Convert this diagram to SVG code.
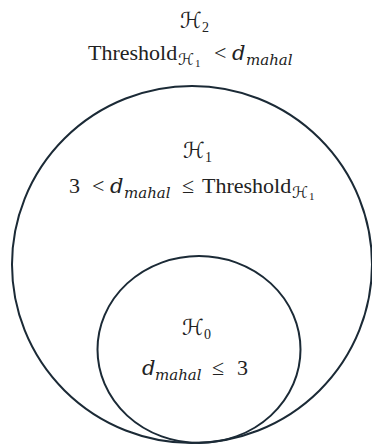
<svg xmlns="http://www.w3.org/2000/svg" width="372" height="446" viewBox="0 0 372 446">
<style>
.ring{fill:none;stroke:#1b2a36;stroke-width:2}
text{font-family:"Liberation Serif","DejaVu Serif",serif;font-size:22px;fill:#222}
.h{font-family:"DejaVu Serif","DejaVu Sans",serif;font-size:22px}
.hs{font-family:"DejaVu Serif","DejaVu Sans",serif;font-size:16px}
.i{font-family:"DejaVu Serif",serif;font-style:italic;font-size:21px}
.sub{font-family:"DejaVu Serif",serif;font-style:italic;font-size:15px}
.n{font-size:14px}
.nn{font-size:11px}
</style>
<rect width="372" height="446" fill="#fff"/>
<g id="H2">
<ellipse class="ring" cx="192" cy="264.5" rx="180" ry="178.5"/>
<text y="28"><tspan class="h" x="180">ℋ</tspan><tspan class="n" x="202" y="32">2</tspan></text>
<text y="60"><tspan x="88">Threshold</tspan><tspan class="hs" x="178" y="65">ℋ</tspan><tspan class="nn" x="195" y="67">1</tspan><tspan x="214" y="60">&lt;</tspan><tspan class="i" x="232" y="60">d</tspan><tspan class="sub" x="246" y="65">mahal</tspan></text>
</g>
<g id="H1">
<text y="158"><tspan class="h" x="183">ℋ</tspan><tspan class="n" x="205" y="162">1</tspan></text>
<text y="193"><tspan x="69">3</tspan><tspan x="92">&lt;</tspan><tspan class="i" x="110">d</tspan><tspan class="sub" x="124" y="198">mahal</tspan><tspan x="182" y="193">≤</tspan><tspan x="202" y="193">Threshold</tspan><tspan class="hs" x="292" y="198">ℋ</tspan><tspan class="nn" x="309" y="200">1</tspan></text>
</g>
<g id="H0">
<ellipse class="ring" cx="199" cy="349.5" rx="101.5" ry="93.5"/>
<text y="335"><tspan class="h" x="182">ℋ</tspan><tspan class="n" x="204" y="339">0</tspan></text>
<text y="375"><tspan class="i" x="142">d</tspan><tspan class="sub" x="155" y="380">mahal</tspan><tspan x="212" y="375">≤</tspan><tspan x="237" y="375">3</tspan></text>
</g>
</svg>
